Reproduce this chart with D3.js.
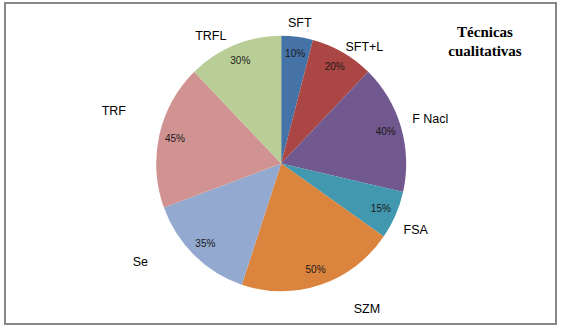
<!DOCTYPE html>
<html>
<head>
<meta charset="utf-8">
<script src="https://cdnjs.cloudflare.com/ajax/libs/d3/7.8.5/d3.min.js"></script>
<style>
  body { margin: 0; background: #fff; }
</style>
</head>
<body>
<div id="chart"></div>
<script>
// data
const categories = ['SFT', 'SFT+L', 'F Nacl', 'FSA', 'SZM', 'Se', 'TRF', 'TRFL']
const values = [10, 20, 40, 15, 50, 35, 45, 30]
const titleLines = ['Técnicas', 'cualitativas']

// layout
const width = 561, height = 328
const cx = 281.2, cy = 163.5
const radius = 125
const ky = 1.022   // pie is slightly taller than wide in the picture
const colors_ = ['#4572a7', '#aa4643', '#71588f', '#4198af', '#db843d', '#93a9cf', '#d19392', '#b9cd96']

// hand placed category labels (excel lets you drag them)
const labelShift = {
    'SFT': [0, 6], 'SFT+L': [12, 12], 'F Nacl': [10, -3], 'FSA': [2, 6],
    'SZM': [40, 4], 'Se': [-40, -8], 'TRF': [-26, -20], 'TRFL': [-16, 9]
}

const svg = d3.select('#chart').append('svg').attr('width', width).attr('height', height)

// frame
svg.append('rect')
    .attr('x', 5).attr('y', 3)
    .attr('width', 551).attr('height', 321)
    .attr('fill', 'white')
    .attr('stroke', '#878787')
    .attr('stroke-width', 2)

const data = categories.map((c, i) => ({cat: c, v: values[i]}))

const pie = d3.pie()
    .sort(null)
    .value(d => d.v)

const arcs = pie(data)

const arc = d3.arc().innerRadius(0).outerRadius(radius)
const arcIn = d3.arc().innerRadius(109).outerRadius(109)
const arcOut = d3.arc().innerRadius(145).outerRadius(145)

let pieGroup = svg.append('g').attr('transform', 'translate(' + cx + ', ' + cy + ') scale(1, ' + ky + ')')
pieGroup.selectAll('path')
    .data(arcs)
    .enter()
    .append('path')
    .attr('d', arc)
    .attr('fill', (d, i) => colors_[i])

let labelGroup = svg.append('g').attr('transform', 'translate(' + cx + ', ' + cy + ')')

// percent labels inside slices
labelGroup.selectAll('text.pct')
    .data(arcs)
    .enter()
    .append('text')
    .attr('class', 'pct')
    .attr('x', d => arcIn.centroid(d)[0])
    .attr('y', d => arcIn.centroid(d)[1] * ky)
    .attr('dy', '.35em')
    .attr('text-anchor', 'middle')
    .style('font-family', '"Liberation Sans", Arial, sans-serif')
    .style('font-size', '10px')
    .style('fill', '#1a1a1a')
    .text(d => d.data.v + '%')

// category labels outside
labelGroup.selectAll('text.cat')
    .data(arcs)
    .enter()
    .append('text')
    .attr('class', 'cat')
    .attr('x', d => arcOut.centroid(d)[0] + labelShift[d.data.cat][0])
    .attr('y', d => arcOut.centroid(d)[1] * ky + labelShift[d.data.cat][1])
    .attr('dy', '.35em')
    .attr('text-anchor', 'middle')
    .style('font-family', '"Liberation Sans", Arial, sans-serif')
    .style('font-size', '12.5px')
    .style('fill', '#000')
    .text(d => d.data.cat)

// title, top right
svg.selectAll('text.title')
    .data(titleLines)
    .enter()
    .append('text')
    .attr('class', 'title')
    .attr('x', 485)
    .attr('y', (d, i) => 31.7 + i * 19)
    .attr('dy', '.35em')
    .attr('text-anchor', 'middle')
    .style('font-family', '"Liberation Serif", "Times New Roman", serif')
    .style('font-weight', 'bold')
    .style('font-size', '15px')
    .style('fill', '#000')
    .text(d => d)
</script>
</body>
</html>
